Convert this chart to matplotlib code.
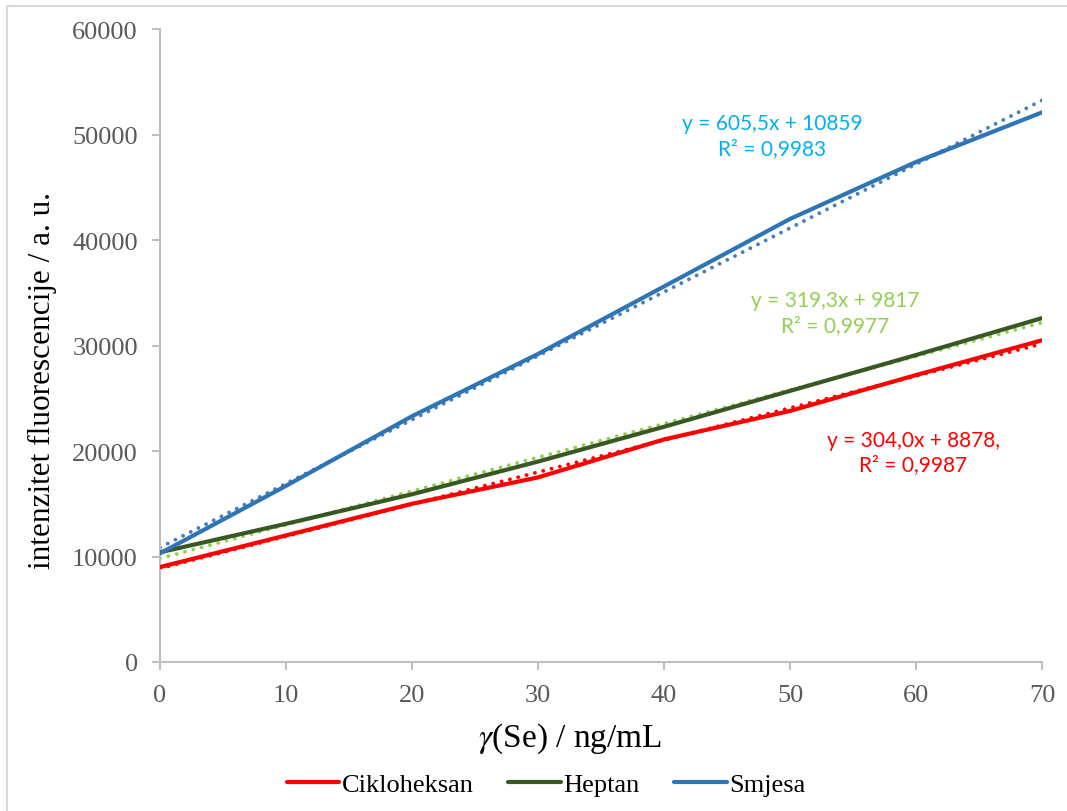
import matplotlib.pyplot as plt
import numpy as np
from matplotlib.patches import Rectangle

# concentration of Se, ng/mL
conc = [0, 10, 20, 30, 40, 50, 60, 70]

# fluorescence intensity for each solvent
cikloheksan = [9000, 12000, 15000, 17500, 21100, 23800, 27200, 30500]
heptan = [10400, 13100, 15900, 19000, 22300, 25700, 29100, 32600]
smjesa = [10300, 16700, 23300, 29200, 35600, 42000, 47400, 52100]

# linear trendline coefficients (slope, intercept) as printed on the chart
fit_cikloheksan = [304.0, 8878]
fit_heptan = [319.3, 9817]
fit_smjesa = [605.5, 10859]

eq_cikloheksan = "y = 304,0x + 8878,\nR² = 0,9987"
eq_heptan = "y = 319,3x + 9817\nR² = 0,9977"
eq_smjesa = "y = 605,5x + 10859\nR² = 0,9983"

serif = ['Liberation Serif', 'DejaVu Serif']
sans = ['Lato', 'DejaVu Sans']
plt.rcParams['mathtext.fontset'] = 'stix'

fig = plt.figure(figsize=(10.67, 8.12), dpi=100)
ax = fig.add_axes([0.150, 0.1835, 0.8266, 0.7795])

# outer chart border
fig.patches.append(Rectangle((0.0066, -0.01), 1.0, 1.0019, transform=fig.transFigure,
                             fill=False, edgecolor='#d9d9d9', linewidth=1.5))

x = np.array(conc)
ax.plot(x, cikloheksan, color='#ff0000', lw=3, label='Cikloheksan', solid_capstyle='round', zorder=3)
ax.plot(x, heptan, color='#385723', lw=3, label='Heptan', solid_capstyle='round', zorder=3)
ax.plot(x, smjesa, color='#2e75b6', lw=3, label='Smjesa', solid_capstyle='round', zorder=3)

# trendlines (round dotted)
dots = (0, (0.01, 2.2))
ax.plot(x, np.polyval(fit_cikloheksan, x), color='#ff0000', lw=2.8, ls=dots,
        dash_capstyle='round', zorder=2)
ax.plot(x, np.polyval(fit_heptan, x), color='#92d050', lw=2.8, ls=dots,
        dash_capstyle='round', zorder=2)
ax.plot(x, np.polyval(fit_smjesa, x), color='#4a7ebb', lw=2.8, ls=dots,
        dash_capstyle='round', zorder=2)

ax.text(48.6, 49900, eq_smjesa, color='#00b0f0', ha='center', va='center',
        fontsize=15, family=sans, linespacing=1.3)
ax.text(53.6, 33100, eq_heptan, color='#92d050', ha='center', va='center',
        fontsize=15, family=sans, linespacing=1.3)
ax.text(59.8, 19900, eq_cikloheksan, color='#ff0000', ha='center', va='center',
        fontsize=15, family=sans, linespacing=1.3)

ax.set_xlim(0, 70)
ax.set_ylim(0, 60000)
ax.set_xticks(range(0, 71, 10))
ax.set_yticks(range(0, 60001, 10000))

for s in ['top', 'right']:
    ax.spines[s].set_visible(False)
for s in ['left', 'bottom']:
    ax.spines[s].set_color('#bfbfbf')
    ax.spines[s].set_linewidth(1.5)

ax.tick_params(axis='both', colors='#bfbfbf', labelcolor='#595959', labelsize=19,
               width=1.5, length=6, direction='out')
ax.tick_params(axis='x', pad=10)
ax.tick_params(axis='y', pad=10)
for lab in ax.get_xticklabels() + ax.get_yticklabels():
    lab.set_family(serif)

ax.set_xlabel(r'$\mathit{\gamma}$(Se) / ng/mL', fontsize=24, family=serif)
ax.xaxis.set_label_coords(0.465, -0.092)
ax.set_ylabel('intenzitet fluorescencije / a. u.', fontsize=22.5, family=serif)
ax.yaxis.set_label_coords(-0.117, 0.447)

leg = fig.legend(loc='center', bbox_to_anchor=(0.512, 0.033), ncol=3, frameon=False,
                 prop={'family': serif, 'size': 19}, handlelength=2.0,
                 handletextpad=0.1, columnspacing=1.3)

plt.savefig('out.png', dpi=100)
